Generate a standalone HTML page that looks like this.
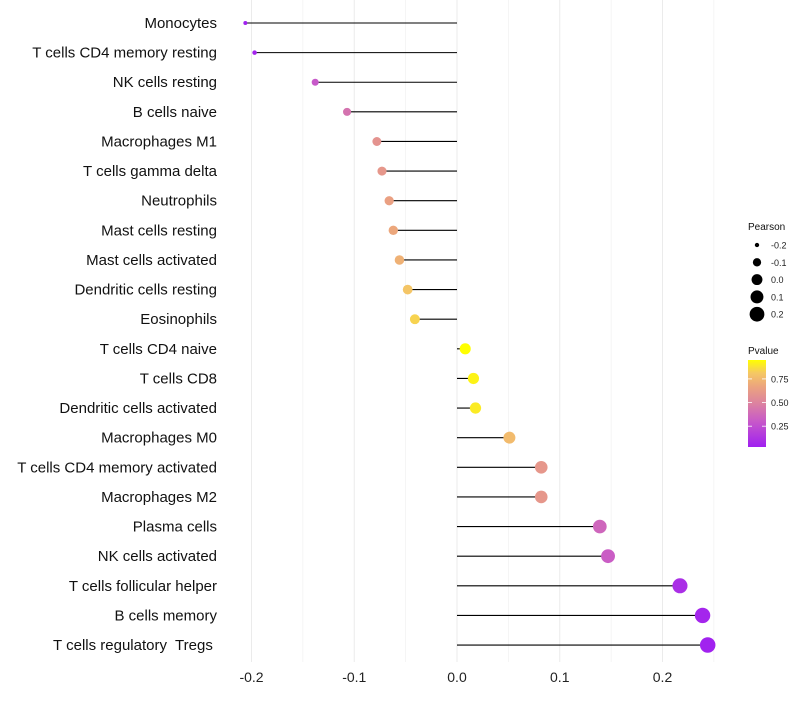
<!DOCTYPE html>
<html><head><meta charset="utf-8"><style>
body{margin:0;background:#fff;font-family:"Liberation Sans",sans-serif}
text{white-space:pre}
</style></head><body>
<svg id="chart" width="800" height="700" xmlns="http://www.w3.org/2000/svg"></svg>
<script>
const categories=["Monocytes","T cells CD4 memory resting","NK cells resting","B cells naive","Macrophages M1","T cells gamma delta","Neutrophils","Mast cells resting","Mast cells activated","Dendritic cells resting","Eosinophils","T cells CD4 naive","T cells CD8","Dendritic cells activated","Macrophages M0","T cells CD4 memory activated","Macrophages M2","Plasma cells","NK cells activated","T cells follicular helper","B cells memory","T cells regulatory  Tregs "];
const pearson=[-0.206,-0.197,-0.138,-0.107,-0.078,-0.073,-0.066,-0.062,-0.056,-0.048,-0.041,0.008,0.016,0.018,0.051,0.082,0.082,0.139,0.147,0.217,0.239,0.244];
const pvalue=[0.04,0.05,0.3,0.42,0.58,0.6,0.65,0.68,0.72,0.8,0.84,0.95,0.92,0.9,0.76,0.6,0.6,0.36,0.32,0.1,0.06,0.04];
const xTicks=[-0.2,-0.1,0.0,0.1,0.2];
const xTickLabels=["-0.2","-0.1","0.0","0.1","0.2"];
const sizeLegend=[-0.2,-0.1,0.0,0.1,0.2];
const pTicks=[0.25,0.5,0.75];

const svg=document.getElementById('chart');
const NS="http://www.w3.org/2000/svg";
function mk(t,a,p){const e=document.createElementNS(NS,t);for(const k in a)e.setAttribute(k,a[k]);(p||svg).appendChild(e);return e;}
const x=v=>457+v*1027.5;
const y=i=>23+i*29.62;
const pMin=0.03,pMax=0.95;
const stops=[[0,[160,32,240]],[0.3,[200,90,200]],[0.5,[220,130,160]],[0.7,[236,165,125]],[0.85,[245,200,100]],[1,[255,255,0]]];
function col(p){let t=Math.max(0,Math.min(1,(p-pMin)/(pMax-pMin)));for(let i=1;i<stops.length;i++){if(t<=stops[i][0]){const a=stops[i-1],b=stops[i];const f=(t-a[0])/(b[0]-a[0]);const c=a[1].map((v,j)=>Math.round(v+(b[1][j]-v)*f));return `rgb(${c})`;}}return 'rgb(255,255,0)';}
const rad=v=>{const a0=4,a1=60;const t=(v+0.206)/(0.45);return Math.sqrt(a0+(a1-a0)*t);};

for(let v=-0.2;v<=0.251;v+=0.05){
const g=mk('line',{x1:x(v),x2:x(v),y1:0,y2:662,stroke:'#ebebeb','stroke-width':Math.abs(Math.round(v*100))%10===0?1:0.5});


}
xTicks.forEach((v,i)=>{
const t=mk('text',{x:x(v),y:682,'text-anchor':'middle','font-size':14,fill:'#222'});t.textContent=xTickLabels[i];


});
categories.forEach((c,i)=>{
const l=mk('text',{x:217,y:y(i)+5,'text-anchor':'end','font-size':15,fill:'#111'});l.textContent=c;


const s=mk('line',{x1:x(0),x2:x(pearson[i]),y1:y(i),y2:y(i),stroke:'#000','stroke-width':1.1});


const d=mk('circle',{cx:x(pearson[i]),cy:y(i),r:rad(pearson[i]),fill:col(pvalue[i])});


});
const st=mk('text',{x:748,y:230,'font-size':10,fill:'#111'});st.textContent='Pearson';


sizeLegend.forEach((v,i)=>{
const cy=245+i*17.3;
const c=mk('circle',{cx:757,cy:cy,r:rad(v),fill:'#000'});


const t=mk('text',{x:771,y:cy+3.5,'font-size':9,fill:'#222'});t.textContent=v.toFixed(1);


});
const pt=mk('text',{x:748,y:354,'font-size':10,fill:'#111'});pt.textContent='Pvalue';


const defs=mk('defs',{});const lg=mk('linearGradient',{id:'pg',x1:0,y1:1,x2:0,y2:0},defs);
stops.forEach(s=>mk('stop',{offset:s[0],'stop-color':`rgb(${s[1]})`},lg));
const cb=mk('rect',{x:748,y:360,width:18,height:87,fill:'url(#pg)'});


const cy=p=>447-(p-pMin)/(pMax-pMin)*87;
pTicks.forEach(p=>{
mk('line',{x1:748,x2:752,y1:cy(p),y2:cy(p),stroke:'#fff','stroke-width':0.8});
mk('line',{x1:762,x2:766,y1:cy(p),y2:cy(p),stroke:'#fff','stroke-width':0.8});
const t=mk('text',{x:771,y:cy(p)+3.5,'font-size':9,fill:'#222'});t.textContent=p.toFixed(2);


});
</script>
</body></html>
